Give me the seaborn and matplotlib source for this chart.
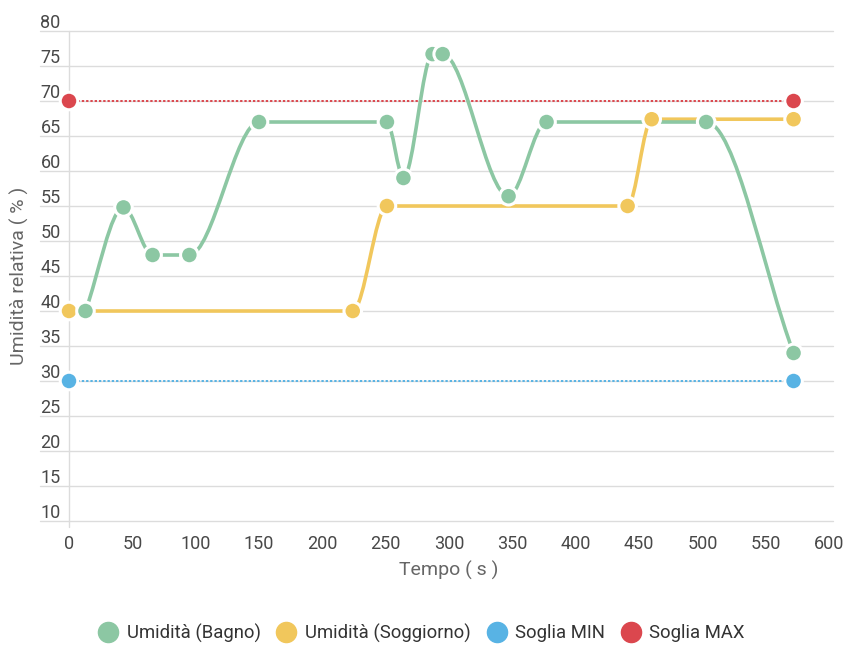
import numpy as np
import pandas as pd
import seaborn as sns
import matplotlib
matplotlib.use("Agg")
import matplotlib.pyplot as plt
from matplotlib.path import Path
from matplotlib.patches import PathPatch
from matplotlib.lines import Line2D
import matplotlib.transforms as mtransforms

# --- data -------------------------------------------------------------
bagno_t = [13, 43, 66, 95, 150, 251, 264, 287, 295, 347, 377, 503, 572]
bagno_u = [40, 54.8, 48, 48, 67, 67, 59, 76.7, 76.7, 56.4, 67, 67, 34]

soggiorno_t = [0, 224, 251, 441, 460, 572]
soggiorno_u = [40, 40, 55, 55, 67.4, 67.4]

soglia_t = [0, 572]
soglia_min = [30, 30]
soglia_max = [70, 70]

series_names = ["Umidità (Bagno)", "Umidità (Soggiorno)", "Soglia MIN", "Soglia MAX"]
series_colors = ["#8cc7a3", "#f1c75c", "#58b3e4", "#db474e"]

x_ticks = list(range(0, 601, 50))
y_ticks = list(range(10, 81, 5))

sns.set_theme(style="white")
plt.rcParams["font.family"] = ["Roboto", "DejaVu Sans"]


def monotone_tangents(x, y):
    """Monotone cubic tangents (Fritsch-Carlson style)."""
    x = np.asarray(x, float)
    y = np.asarray(y, float)
    n = len(x)
    d = np.diff(y) / np.diff(x)
    m = np.zeros(n)
    m[0] = d[0]
    m[-1] = d[-1]
    for i in range(1, n - 1):
        if np.sign(d[i - 1]) != np.sign(d[i]):
            m[i] = 0.0
        else:
            m[i] = (d[i - 1] + d[i]) / 2
    for i in range(n - 1):
        if abs(d[i]) < 1e-9:
            m[i] = m[i + 1] = 0.0
            continue
        a = m[i] / d[i]
        b = m[i + 1] / d[i]
        s = a * a + b * b
        if s > 9:
            tau = 3 / np.sqrt(s)
            m[i] = a * tau * d[i]
            m[i + 1] = b * tau * d[i]
    return m


def smooth_path(x, y):
    m = monotone_tangents(x, y)
    verts = [(x[0], y[0])]
    codes = [Path.MOVETO]
    for i in range(len(x) - 1):
        h = (x[i + 1] - x[i]) / 3
        verts += [(x[i] + h, y[i] + h * m[i]),
                  (x[i + 1] - h, y[i + 1] - h * m[i + 1]),
                  (x[i + 1], y[i + 1])]
        codes += [Path.CURVE4] * 3
    return Path(verts, codes)


fig = plt.figure(figsize=(8.53, 6.46), dpi=100)
ax = fig.add_axes([0.0809, 0.1935, 0.8910, 0.7585])
ax.set_xlim(0, 600)
ax.set_ylim(10, 80)

# horizontal grid lines running under the tick labels
for yv in y_ticks:
    ax.axhline(yv, xmin=-0.038, xmax=1.005, color="#dcdcdc", lw=1.0,
               clip_on=False, zorder=0)
# left axis line
ax.plot([0, 0], [80, 10], color="#dcdcdc", lw=1.0, zorder=0, clip_on=False)
ax.plot([0, 0], [10, 9.15], color="#dcdcdc", lw=1.0, zorder=0, clip_on=False)

for s in ax.spines.values():
    s.set_visible(False)

# threshold lines
ax.plot(soglia_t, soglia_max, color=series_colors[3], lw=1.4,
        ls=(0, (1.2, 1.0)), zorder=2)
ax.plot(soglia_t, soglia_min, color=series_colors[2], lw=1.4,
        ls=(0, (1.2, 1.0)), zorder=2)

# smooth humidity curves
for tx, uy, col in [(soggiorno_t, soggiorno_u, series_colors[1]),
                    (bagno_t, bagno_u, series_colors[0])]:
    ax.add_patch(PathPatch(smooth_path(tx, uy), fill=False, edgecolor=col,
                           lw=2.6, zorder=3, capstyle="round"))

df = pd.concat([
    pd.DataFrame({"t": soglia_t, "u": soglia_max, "s": series_names[3]}),
    pd.DataFrame({"t": soglia_t, "u": soglia_min, "s": series_names[2]}),
    pd.DataFrame({"t": soggiorno_t, "u": soggiorno_u, "s": series_names[1]}),
    pd.DataFrame({"t": bagno_t, "u": bagno_u, "s": series_names[0]}),
], ignore_index=True)

sns.scatterplot(data=df, x="t", y="u", hue="s",
                palette=dict(zip(series_names, series_colors)),
                s=160, edgecolor="white", linewidth=2.2, legend=False,
                ax=ax, zorder=5, clip_on=False)

# ticks
ax.set_xticks(x_ticks)
ax.set_yticks(y_ticks)
ax.tick_params(axis="both", length=0, labelsize=13, labelcolor="#484848")
ax.tick_params(axis="x", pad=10)
ax.tick_params(axis="y", pad=6)
shift = mtransforms.ScaledTranslation(0, 7.4 / 72, fig.dpi_scale_trans)
for lab in ax.get_yticklabels():
    lab.set_transform(lab.get_transform() + shift)

ax.set_xlabel("Tempo ( s )", fontsize=14, color="#666666", labelpad=6)
ax.set_ylabel("Umidità relativa ( % )", fontsize=14, color="#666666",
              labelpad=8)

handles = [Line2D([], [], ls="", marker="o", markersize=14.5,
                  markerfacecolor=c, markeredgecolor=c) for c in series_colors]
fig.legend(handles, series_names, loc="center", bbox_to_anchor=(0.494, 0.02),
           bbox_transform=fig.transFigure, ncol=4, frameon=False,
           fontsize=13.3, handlelength=1.1, handletextpad=0.45,
           columnspacing=0.85, labelcolor="#333333")

fig.savefig("out.png", dpi=100)
